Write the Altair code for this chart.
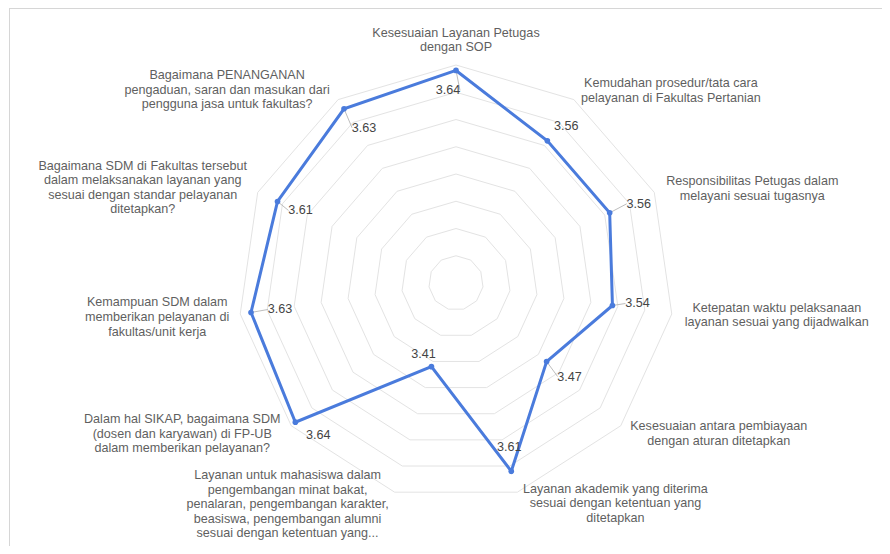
import math
import altair as alt
import pandas as pd

# ---------------- data ----------------
categories = [
    "Kesesuaian Layanan Petugas\ndengan SOP",
    "Kemudahan prosedur/tata cara\npelayanan di Fakultas Pertanian",
    "Responsibilitas Petugas dalam\nmelayani sesuai tugasnya",
    "Ketepatan waktu pelaksanaan\nlayanan sesuai yang dijadwalkan",
    "Kesesuaian antara pembiayaan\ndengan aturan ditetapkan",
    "Layanan akademik yang diterima\nsesuai dengan ketentuan yang\nditetapkan",
    "Layanan untuk mahasiswa dalam\npengembangan minat bakat,\npenalaran, pengembangan karakter,\nbeasiswa, pengembangan alumni\nsesuai dengan ketentuan yang...",
    "Dalam hal SIKAP, bagaimana SDM\n(dosen dan karyawan) di FP-UB\ndalam memberikan pelayanan?",
    "Kemampuan SDM dalam\nmemberikan pelayanan di\nfakultas/unit kerja",
    "Bagaimana SDM di Fakultas tersebut\ndalam melaksanakan layanan yang\nsesuai dengan standar pelayanan\nditetapkan?",
    "Bagaimana PENANGANAN\npengaduan, saran dan masukan dari\npengguna jasa untuk fakultas?",
]
values = [3.64, 3.56, 3.56, 3.54, 3.47, 3.61, 3.41, 3.64, 3.63, 3.61, 3.63]
ticks = [3.25, 3.30, 3.35, 3.40, 3.45, 3.50, 3.55, 3.60, 3.65]

# ---------------- layout (pixels) ----------------
W, H = 874, 538
CX, CY = 448, 275          # centre of the radar in chart pixels
PX = 545.0                 # pixels per value unit
LH = 14.6                  # label line height
# category label nudges from outer vertex (px, screen direction) - block centres
cat_nudge = [(0, -25), (97, -9), (98, -4), (105, 1), (98, 8), (98, 11),
             (-107, 12), (-109, 8), (-83, 3), (-115, -5), (-111, -10)]
# data label nudges from point (px)
val_nudge = [(-8, 20), (19, -15), (29, -9), (25, -2), (23, 15), (-2, -24),
             (-8, -13), (23, 13), (29, -3), (23, 9), (20, 19)]
leader = [0, 2, 3, 4, 8, 9, 10]

BLUE = "#4a7bdc"
GRID = "#e3e3e3"
FONT = "Liberation Sans"

n = len(categories)
vmin = ticks[0]


def xy(r, i):
    a = 2 * math.pi * i / n
    return r * math.sin(a), r * math.cos(a)


# rings
ring_rows = []
for k, t in enumerate(ticks[1:]):
    for j in range(n + 1):
        x, y = xy(t - vmin, j % n)
        ring_rows.append({"ring": k, "o": j, "x": x, "y": y})
rings = pd.DataFrame(ring_rows)

# series line
line_rows = []
for j in range(n + 1):
    x, y = xy(values[j % n] - vmin, j % n)
    line_rows.append({"o": j, "x": x, "y": y})
line_df = pd.DataFrame(line_rows)

pts = []
for i, v in enumerate(values):
    x, y = xy(v - vmin, i)
    dx, dy = val_nudge[i]
    lx, ly = x + dx / PX, y - dy / PX
    sgn = 1 if dx > 0 else -1
    pts.append({"x": x, "y": y, "lab": f"{v:.2f}", "lx": lx, "ly": ly,
                "ex": lx - sgn * 12 / PX, "ey": ly,
                "lead": i in leader})
pts_df = pd.DataFrame(pts)

cat_rows = []
for i, c in enumerate(categories):
    x, y = xy(ticks[-1] - vmin, i)
    dx, dy = cat_nudge[i]
    nl = c.count("\n")
    dy = dy - nl * LH / 2.0
    cat_rows.append({"cat": c, "x": x + dx / PX, "y": y - dy / PX})
cat_df = pd.DataFrame(cat_rows)

xs = alt.Scale(domain=[-CX / PX, (W - CX) / PX], range=[0, W], nice=False, zero=False)
ys = alt.Scale(domain=[-(H - CY) / PX, CY / PX], range=[H, 0], nice=False, zero=False)
X = lambda f: alt.X(f, type="quantitative", scale=xs, axis=None)
Y = lambda f: alt.Y(f, type="quantitative", scale=ys, axis=None)

ring_layer = alt.Chart(rings).mark_line(color=GRID, strokeWidth=1).encode(
    x=X("x"), y=Y("y"), detail="ring:N", order="o:Q")

series = alt.Chart(line_df).mark_line(color=BLUE, strokeWidth=3).encode(
    x=X("x"), y=Y("y"), order="o:Q")

dots = alt.Chart(pts_df).mark_circle(color=BLUE, opacity=1, size=32).encode(
    x=X("x"), y=Y("y"))

leaders = alt.Chart(pts_df).transform_filter("datum.lead").mark_rule(
    color="#bdbdbd", strokeWidth=1).encode(
    x=X("x"), y=Y("y"), x2="ex:Q", y2="ey:Q")

val_text = alt.Chart(pts_df).mark_text(
    font=FONT, fontSize=12.6, color="#444444", align="center", baseline="middle").encode(
    x=X("lx"), y=Y("ly"), text="lab:N")

cat_text = alt.Chart(cat_df).mark_text(
    font=FONT, fontSize=12.6, color="#5f5f5f", align="center", baseline="middle",
    lineBreak="\n", lineHeight=LH).encode(
    x=X("x"), y=Y("y"), text="cat:N")

frame_top = alt.Chart(pts_df).mark_rule(color="#d6d6d6", strokeWidth=1).encode(
    x=alt.value(1), x2=alt.value(W), y=alt.value(0.5))
frame_left = alt.Chart(pts_df).mark_rule(color="#d6d6d6", strokeWidth=1).encode(
    x=alt.value(1.5), y=alt.value(0), y2=alt.value(H))

chart = alt.layer(
    frame_top, frame_left, ring_layer, leaders, series, dots, val_text, cat_text
).properties(
    width=W, height=H, autosize=alt.AutoSizeParams(type="none"), padding=0
).configure_view(stroke=None)

chart.save("out.html", embed_options={"renderer": "svg", "actions": False})
